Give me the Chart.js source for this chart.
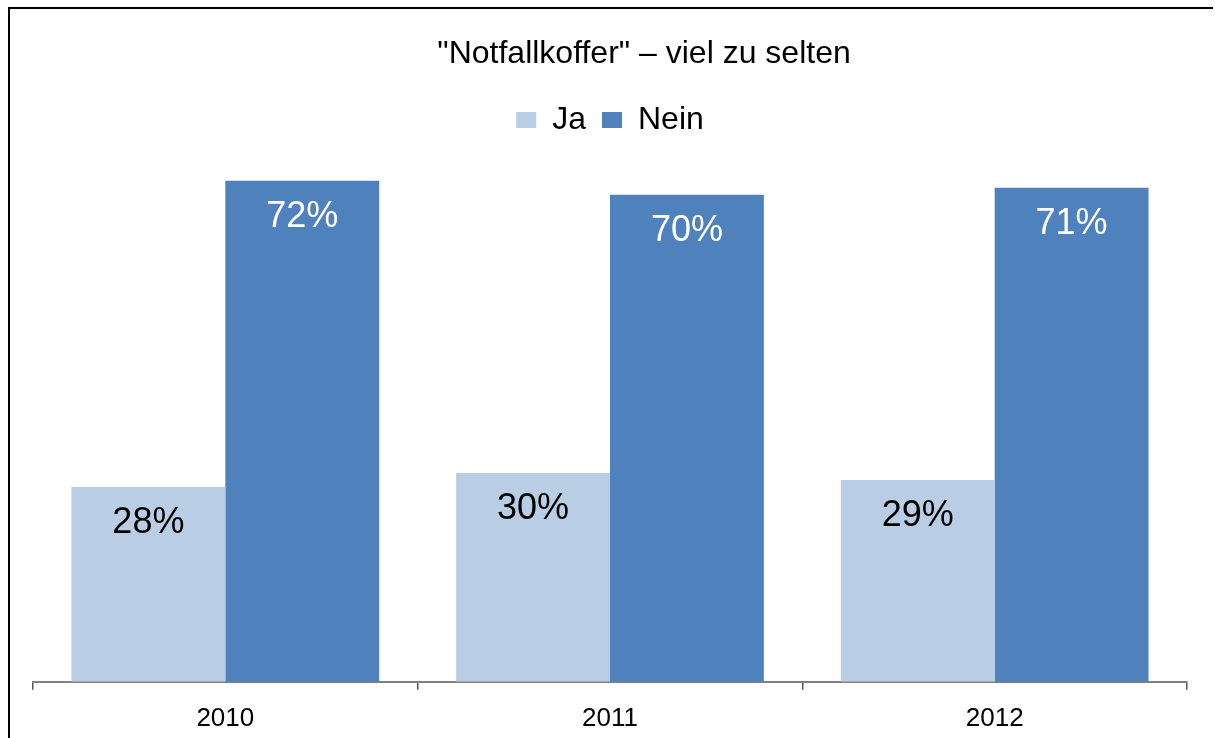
<!DOCTYPE html>
<html>
<head>
<meta charset="utf-8">
<script src="https://cdn.jsdelivr.net/npm/chart.js@4"></script>
<style>
  html, body { margin: 0; background: #fff; overflow: hidden; width: 1215px; height: 738px; }
  #wrap { position: absolute; left: 0; top: 0; width: 1215px; height: 747px; }
</style>
</head>
<body>
<div id="wrap"><canvas id="myChart"></canvas></div>
<script>
var ctx = document.getElementById('myChart').getContext('2d');

// Daten
var jahre = ['2010', '2011', '2012'];
var jaWerte = [28, 30, 29];
var neinWerte = [72, 70, 71];
var titel = '"Notfallkoffer" \u2013 viel zu selten';

var fontName = '"Liberation Sans", Arial, sans-serif';

// Rahmen oben/links und Titel (etwas rechts von der Mitte wie im Original)
var titelPlugin = {
    id: 'titelPlugin',
    afterDraw: function (chart) {
        var c = chart.ctx;
        c.save();
        c.strokeStyle = '#000';
        c.lineWidth = 2;
        c.beginPath();
        c.moveTo(9, chart.height);
        c.lineTo(9, 8);
        c.lineTo(1213, 8);
        c.stroke();
        c.font = '32px ' + fontName;
        c.fillStyle = '#000';
        c.textAlign = 'center';
        c.textBaseline = 'middle';
        c.fillText(titel, 644, 54);
        c.restore();
    }
};

// Werte in die Balken schreiben
var werteLabels = {
    id: 'werteLabels',
    afterDatasetsDraw: function (chart) {
        var c = chart.ctx;
        c.save();
        c.font = '36px ' + fontName;
        c.textAlign = 'center';
        c.textBaseline = 'middle';
        chart.data.datasets.forEach(function (ds, i) {
            var meta = chart.getDatasetMeta(i);
            c.fillStyle = i === 0 ? '#000' : '#fff';
            meta.data.forEach(function (bar, j) {
                c.fillText(ds.data[j] + '%', bar.x, bar.y + 36);
            });
        });
        c.restore();
    }
};

var data = {
    labels: jahre,
    datasets: [
        {
            label: 'Ja',
            data: jaWerte,
            backgroundColor: '#B9CDE5'
        },
        {
            label: 'Nein',
            data: neinWerte,
            backgroundColor: '#4F81BD'
        }
    ]
};

var config = {
    type: 'bar',
    data: data,
    plugins: [titelPlugin, werteLabels],
    options: {
        responsive: false,
        animation: false,
        layout: {
            padding: { top: 88, left: 33, right: 28, bottom: 0 }
        },
        datasets: {
            bar: { categoryPercentage: 0.8, barPercentage: 1.0 }
        },
        plugins: {
            tooltip: { enabled: false },
            title: { display: false },
            legend: {
                display: true,
                position: 'top',
                labels: {
                    color: '#000',
                    boxWidth: 20,
                    boxHeight: 16,
                    padding: 16,
                    font: { family: fontName, size: 32 }
                }
            }
        },
        scales: {
            x: {
                grid: {
                    offset: true,
                    drawOnChartArea: false,
                    drawTicks: true,
                    tickLength: 8,
                    color: '#555',
                    lineWidth: 1.5
                },
                border: { display: true, color: '#808080', width: 2 },
                ticks: {
                    color: '#000',
                    padding: 13,
                    font: { family: fontName, size: 26 }
                }
            },
            y: {
                display: false,
                min: 0,
                max: 77
            }
        }
    }
};

var canvas = document.getElementById('myChart');
canvas.width = 1215;
canvas.height = 747;
var myChart = new Chart(ctx, config);
</script>
</body>
</html>
